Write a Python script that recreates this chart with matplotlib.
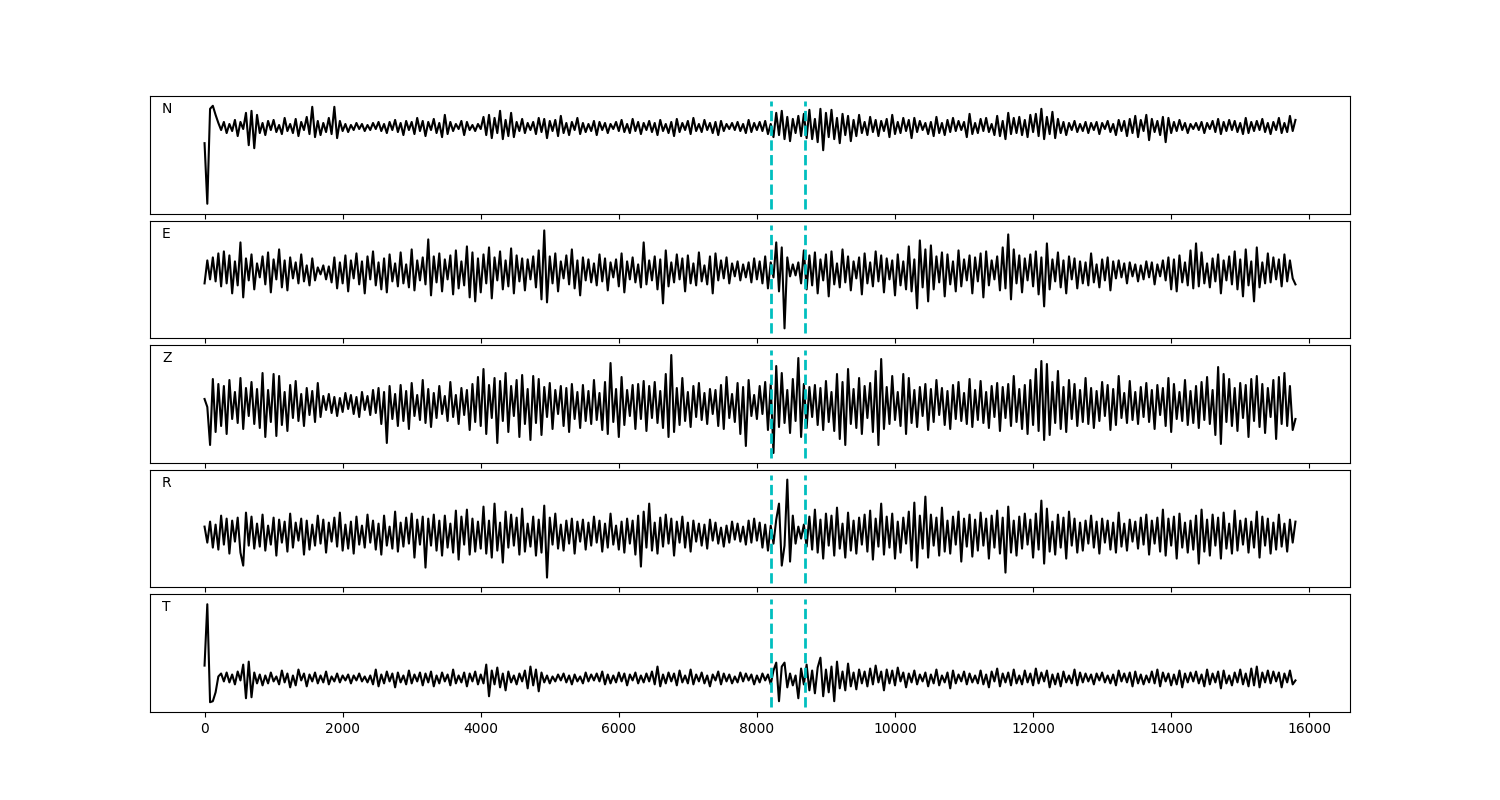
import numpy as np
import matplotlib
matplotlib.use('Agg')
import matplotlib.pyplot as plt

#Sample spacing of the traces and the two picked times (dashed lines)
dt = 40
picks = [8200, 8700]
labels = ['N', 'E', 'Z', 'R', 'T']

#Trace amplitudes, one value every 40 samples
trace_n = [
    -16, -76, 18, 21, 12, 4, -3, 5, -6, 3, -4, 7, -9, 5, -2, 14, -18, 16, -21, 12,
    -6, 4, -8, 6, -3, 7, -5, 2, -7, 9, -4, 3, -6, 8, -9, 5, -3, 10, -7, 20,
    -10, 6, -8, 4, -5, 9, -7, 20, -11, 6, -4, 3, -5, 2, -3, 4, -2, 3, -4, 2,
    -3, 4, -2, 5, -4, 3, -6, 5, -3, 7, -5, 4, -8, 6, -3, 5, -7, 9, -4, 6,
    -9, 5, -3, 8, -6, 4, -10, 12, -7, 5, -4, 3, -2, 6, -8, 5, -3, 2, -4, 3,
    -2, 10, -8, 12, -11, 9, -6, 16, -12, 7, -9, 14, -10, 5, -4, 8, -6, 4, -3, 5,
    -7, 9, -5, 8, -11, 6, -4, 7, -9, 11, -6, 4, -8, 5, -3, 9, -7, 4, -5, 3,
    -4, 6, -8, 5, -3, 4, -6, 3, -2, 5, -4, 7, -5, 3, -6, 8, -4, 5, -7, 4,
    -3, 6, -5, 4, -8, 7, -4, 3, -6, 5, -9, 8, -5, 4, -3, 6, -7, 9, -4, 3,
    -5, 7, -3, 4, -6, 5, -8, 6, -4, 3, -2, 4, -3, 5, -4, 3, -6, 7, -5, 4,
    -3, 5, -4, 6, -7, 3, -10, 14, -8, 16, -12, 10, -14, 8, -6, 11, -9, 13, -11, 17,
    -12, 8, -15, 18, -23, 14, -10, 17, -12, 9, -16, 13, -8, 11, -14, 7, -9, 12, -6, 5,
    -8, 10, -5, 7, -9, 6, -4, 8, -10, 12, -7, 5, -6, 9, -4, 7, -11, 9, -5, 6,
    -3, 4, -7, 5, -9, 10, -6, 4, -8, 7, -5, 9, -4, 6, -3, 5, -10, 13, -7, 4,
    -6, 8, -4, 9, -5, 3, -8, 11, -9, 6, -12, 14, -7, 9, -6, 10, -8, 7, -10, 12,
    -5, 13, -9, 18, -12, 10, -7, 15, -11, 8, -6, 5, -8, 4, -3, 6, -5, 3, -4, 5,
    -6, 4, -3, 5, -7, 4, -2, 6, -5, 3, -8, 7, -4, 6, -9, 8, -6, 11, -10, 7,
    -4, 12, -13, 8, -5, 6, -8, 10, -15, 9, -6, 5, -4, 7, -3, 4, -6, 3, -2, 4,
    -3, 5, -6, 4, -2, 6, -5, 8, -7, 5, -4, 7, -3, 6, -5, 4, -7, 9, -6, 5,
    -4, 6, -3, 8, -5, 4, -7, 5, -3, 9, -6, 4, -5, 11, -4, 7]

trace_e = [
    -12, 11, -8, 14, -10, 18, -15, 20, -12, 16, -22, 10, -14, 29, -26, 13, -9, 17, -18, 8,
    -6, 15, -13, 19, -21, 12, -8, 22, -16, 11, -19, 14, -7, 9, -12, 17, -10, 6, -14, 13,
    -9, 4, -3, 6, -8, 5, -11, 14, -17, 9, -12, 16, -20, 11, -7, 18, -13, 10, -22, 15,
    -8, 20, -14, 9, -18, 13, -21, 17, -10, 8, -15, 19, -12, 7, -16, 22, -19, 11, -9, 14,
    -13, 32, -24, 15, -11, 18, -20, 12, -8, 16, -23, 21, -17, 10, -14, 25, -26, 19, -30, 13,
    -21, 17, -12, 24, -27, 14, -9, 20, -18, 11, -15, 23, -22, 16, -10, 13, -19, 12, -8, 15,
    -16, 21, -28, 41, -31, 15, -12, 18, -20, 10, -7, 16, -13, 22, -17, 11, -24, 14, -9, 12,
    -11, 8, -14, 17, -10, 13, -19, 9, -6, 12, -15, 18, -21, 10, -8, 14, -11, 7, -16, 29,
    -13, 11, -9, 15, -18, 12, -32, 21, -15, 9, -11, 17, -8, 13, -20, 16, -12, 8, -14, 19,
    -10, 6, -13, 15, -22, 18, -9, 11, -7, 14, -12, 8, -5, 10, -9, 7, -6, 9, -11, 13,
    -8, 10, -12, 15, -17, 9, -6, 29, -20, 24, -57, 14, -5, 7, -4, 9, -12, 21, -18, 16,
    -14, 19, -22, 12, -9, 17, -25, 20, -13, 8, -16, 22, -11, 15, -19, 10, -7, 14, -23, 18,
    -12, 9, -15, 20, -10, 16, -21, 13, -8, 11, -24, 17, -14, 10, -18, 25, -20, 12, -37, 31,
    -16, 22, -30, 26, -18, 15, -11, 19, -25, 17, -13, 10, -20, 21, -15, 12, -9, 16, -22, 14,
    -10, 18, -26, 20, -14, 11, -8, 15, -19, 24, -17, 37, -28, 22, -12, 16, -21, 13, -9, 17,
    -15, 20, -23, 14, -35, 28, -18, 12, -10, 19, -16, 11, -22, 15, -8, 13, -17, 10, -12, 9,
    -14, 18, -11, 7, -16, 12, -9, 14, -19, 10, -7, 11, -6, 8, -12, 9, -5, 7, -10, 6,
    -8, 10, -6, 9, -13, 7, -5, 11, -9, 14, -18, 12, -20, 16, -11, 9, -14, 21, -17, 28,
    -15, 19, -12, 8, -16, 13, -10, 17, -22, 11, -9, 15, -13, 20, -18, 12, -25, 22, -14, 10,
    -30, 24, -16, 9, -12, 18, -11, 14, -8, 12, -15, 17, -10, 11, -7, -13]

trace_z = [
    5, -3, -41, 25, -28, 20, -22, 18, -30, 24, -15, 12, -19, 26, -25, 16, -12, 22, -20, 15,
    -24, 31, -33, 14, -18, 30, -32, 28, -21, 12, -27, 19, -14, 23, -17, 10, -22, 16, -11, 13,
    -18, 21, -13, 8, -6, 10, -9, 7, -12, 6, -8, 11, -5, 9, -10, 7, -13, 12, -6, 8,
    -11, 14, -9, 16, -20, 12, -39, 18, -15, 10, -22, 19, -17, 13, -25, 21, -12, 9, -16, 24,
    -19, 15, -23, 11, -14, 18, -10, 8, -17, 22, -13, 9, -20, 16, -11, 14, -26, 20, -18, 27,
    -22, 35, -30, 19, -14, 26, -39, 23, -17, 31, -28, 18, -12, 24, -33, 29, -20, 15, -36, 28,
    -19, 25, -31, 17, -13, 21, -25, 14, -10, 18, -22, 16, -28, 20, -15, 12, -24, 19, -17, 13,
    -20, 24, -16, 11, -26, 22, -30, 41, -18, 15, -33, 27, -21, 14, -12, 19, -25, 20, -15, 23,
    -27, 18, -14, 22, -19, 13, -24, 30, -33, 49, -28, 16, -21, 26, -17, 12, -23, 18, -13, 21,
    -16, 11, -20, 15, -10, 14, -22, 19, -25, 27, -14, 10, -18, 21, -30, 17, -42, 24, -12, 9,
    -15, 18, -10, 22, -26, 20, -49, 38, -23, 31, -19, 14, -29, 25, -17, 46, -33, 20, -24, 17,
    -13, 19, -21, 16, -26, 23, -18, 12, -27, 30, -35, 22, -41, 35, -20, 15, -24, 26, -30, 18,
    -14, 21, -28, 33, -41, 45, -25, 17, -20, 28, -16, 12, -22, 30, -30, 26, -19, 14, -23, 17,
    -12, 20, -26, 15, -18, 24, -11, 16, -21, 13, -25, 19, -15, 22, -17, 11, -20, 25, -23, 14,
    -16, 23, -19, 12, -24, 18, -13, 21, -27, 17, -14, 20, -22, 28, -18, 15, -25, 19, -30, 24,
    -21, 35, -27, 43, -36, 40, -31, 22, -19, 33, -25, 17, -28, 24, -15, 20, -22, 14, -18, 26,
    -20, 16, -24, 13, -17, 22, -12, 19, -26, 15, -21, 28, -14, 11, -19, 23, -16, 12, -20, 17,
    -13, 21, -18, 14, -25, 19, -11, 16, -22, 26, -28, 20, -15, 12, -17, 24, -21, 13, -19, 18,
    -24, 22, -16, 27, -20, 14, -31, 37, -40, 30, -18, 25, -22, 16, -27, 21, -14, 19, -33, 25,
    -17, 28, -23, 20, -29, 16, -13, 24, -35, 27, -20, 31, -22, 18, -26, -15]

trace_r = [
    7, -9, 12, -14, 9, -16, 18, -11, 15, -20, 13, -8, 16, -19, -32, 21, -12, 17, -15, 10,
    -13, 19, -17, 8, -11, 16, -22, 14, -9, 12, -18, 20, -14, 11, -7, 15, -21, 13, -16, 9,
    -12, 18, -10, 14, -19, 11, -8, 16, -13, 21, -17, 9, -15, 12, -20, 17, -11, 8, -14, 19,
    -9, 13, -16, 10, -21, 18, -12, 7, -15, 22, -18, 11, -13, 16, -10, 20, -24, 14, -11, 17,
    -34, 15, -12, 19, -17, 13, -22, 18, -14, 10, -19, 23, -26, 17, -11, 24, -21, 15, -18, 12,
    -15, 27, -20, 13, -24, 30, -17, 11, -29, 22, -14, 19, -12, 16, -21, 25, -18, 10, -13, 17,
    -22, 14, -19, 28, -44, 16, -11, 20, -15, 9, -17, 13, -10, 15, -20, 12, -8, 14, -16, 11,
    -12, 17, -9, 13, -18, 10, -14, 20, -11, 8, -16, 12, -19, 15, -10, 13, -21, 18, -33, 22,
    -14, 30, -17, 11, -20, 16, -13, 19, -10, 15, -22, 12, -9, 17, -14, 11, -18, 13, -8, 10,
    -12, 9, -15, 14, -7, 11, -10, 6, -13, 8, -9, 12, -6, 10, -8, 7, -11, 13, -9, 15,
    -7, 11, -14, 9, -17, 8, -10, 14, 30, -32, -12, 54, -28, 18, -10, 7, -5, 9, -13, 17,
    -16, 24, -19, 14, -25, 20, -12, 18, -22, 26, -15, 10, -24, 21, -17, 13, -20, 16, -11, 19,
    -18, 23, -26, 15, -13, 30, -21, 17, -14, 20, -25, 12, -19, 16, -10, 22, -27, 31, -34, 18,
    -15, 37, -24, 19, -12, 16, -22, 26, -18, 13, -20, 17, -11, 22, -28, 15, -13, 19, -23, 14,
    -17, 21, -12, 15, -25, 18, -14, 23, -20, 16, -39, 27, -19, 13, -22, 17, -15, 20, -11, 14,
    -24, 20, -16, 33, -30, 25, -18, 12, -21, 19, -14, 16, -25, 22, -12, 15, -19, 11, -17, 13,
    -10, 18, -14, 12, -20, 15, -9, 13, -16, 11, -19, 21, -13, 10, -17, 14, -8, 12, -15, 16,
    -11, 19, -21, 13, -10, 16, -18, 24, -22, 15, -12, 17, -25, 20, -14, 11, -19, 13, -16, 18,
    -30, 24, -18, 14, -22, 19, -12, 16, -25, 21, -15, 10, -20, 23, -17, 13, -11, 15, -19, 12,
    -14, 22, -24, 17, -12, 15, -20, 11, -16, 19, -13, 10, -18, 14, -9, 12]

trace_t = [
    13, 75, -24, -23, -14, 2, 5, -3, 6, -4, 4, -6, 7, -2, 14, -20, 17, -19, 6, -5,
    4, -7, 3, -5, 6, -3, 2, -6, 8, -4, 5, -9, 3, -7, 9, -2, 5, -8, 4, -3,
    6, -5, 3, -4, 7, -6, 2, -3, 5, -4, 3, -2, 4, -5, 3, -2, 5, -3, 2, -4,
    3, -6, 9, -8, 4, -5, 7, -3, 5, -9, 6, -4, 3, -6, 8, -5, 4, -3, 6, -7,
    5, -4, 7, -8, 3, -5, 6, -3, 4, -7, 9, -5, 3, -4, 6, -8, 5, -3, 7, -6,
    4, -5, 14, -18, 8, -6, 11, -9, 5, -12, 7, -4, 3, -6, 5, -3, 8, -10, 12, -7,
    9, -13, 6, -4, 3, -5, 2, -3, 4, -2, 5, -4, 3, -6, 4, -3, 2, -5, 6, -3,
    4, -2, 5, -3, 7, -6, 4, -5, 3, -4, 6, -3, 5, -7, 4, -2, 6, -5, 3, -4,
    5, -3, 7, -6, 12, -8, 4, -5, 6, -3, 5, -7, 8, -4, 3, -5, 9, -6, 4, -3,
    6, -5, 3, -8, 4, -2, 7, -6, 5, -3, 4, -5, 2, -4, 6, -3, 5, -2, 4, -6,
    3, -4, 5, -2, 4, -6, 8, 16, -23, 12, 16, -9, 5, -7, 3, -20, 10, -6, 14, -12,
    8, -15, 11, 21, -18, 9, -14, 12, -23, 17, -10, 7, -12, 15, -8, 6, -11, 9, -5, 7,
    -8, 10, -6, 13, -4, 7, -12, 9, -5, 8, -7, 11, -3, 6, -9, 5, -4, 8, -6, 4,
    -3, 6, -8, 4, -5, 9, -7, 3, -4, 6, -10, 8, -5, 4, -3, 7, -6, 5, -4, 3,
    -5, 8, -6, 4, -9, 7, -3, 10, -8, 5, -4, 6, -7, 9, -5, 3, -6, 8, -4, 5,
    -7, 10, -5, 6, -3, 8, -9, 4, -6, 5, -8, 7, -4, 3, -5, 9, -7, 6, -4, 5,
    -3, 4, -6, 5, -2, 6, -4, 3, -5, 4, -7, 8, -3, 5, -4, 6, -8, 7, -5, 4,
    -6, 3, -4, 7, -5, 9, -8, 6, -3, 5, -7, 4, -6, 8, -9, 5, -4, 6, -3, 7,
    -5, 4, -8, 9, -6, 5, -4, 7, -10, 8, -5, 3, -7, 6, -4, 9, -6, 5, -8, 10,
    -7, 12, -9, 6, -4, 8, -5, 7, -3, 6, -9, 5, -4, 8, -6, -2]

traces = [trace_n, trace_e, trace_z, trace_r, trace_t]

fig, axes = plt.subplots(5, 1, figsize=(15, 8), sharex=True)
fig.subplots_adjust(left=0.1, right=0.9, top=0.88, bottom=0.11, hspace=0.06)

#One panel per component, with the two picks as dashed cyan lines
for ax, label, tr in zip(axes, labels, traces):
    t = np.arange(len(tr)) * dt
    ax.plot(t, tr, color='k', lw=1.5)
    ax.margins(y=0.1)
    for p in picks:
        ax.axvline(p, ymin=0.04, ymax=0.96, color='c', ls='--', lw=2)
    ax.set_yticks([])
    ax.text(0.01, 0.89, label, transform=ax.transAxes, va='center')

axes[-1].set_xticks(range(0, 16001, 2000))
plt.savefig('out.png')
